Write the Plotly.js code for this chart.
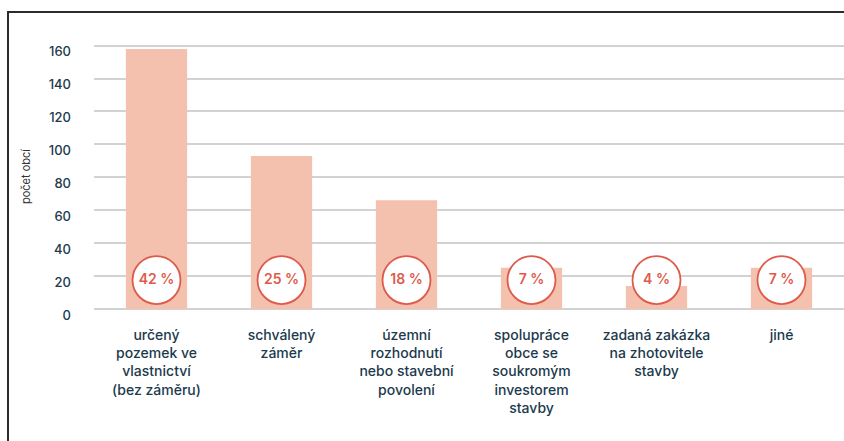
<!DOCTYPE html>
<html>
<head>
<meta charset="utf-8">
<script src="https://cdn.plot.ly/plotly-3.0.1.min.js"></script>
<style>
  html, body { margin: 0; padding: 0; background: #fff; }
  #wrap { position: relative; width: 844px; height: 441px; overflow: hidden; }
  #chart { position: absolute; left: 0; top: 0; width: 844px; height: 441px; }
  #frame { position: absolute; left: 7px; top: 11px; width: 850px; height: 450px;
           border-left: 2px solid #2b2b2b; border-top: 2px solid #2b2b2b; pointer-events: none; }
</style>
</head>
<body>
<div id="wrap">
  <div id="chart"></div>
  <div id="frame"></div>
</div>
<script>
const categories = [
  "určený<br>pozemek ve<br>vlastnictví<br>(bez záměru)",
  "schválený<br>záměr",
  "územní<br>rozhodnutí<br>nebo stavební<br>povolení",
  "spolupráce<br>obce se<br>soukromým<br>investorem<br>stavby",
  "zadaná zakázka<br>na zhotovitele<br>stavby",
  "jiné"
];
const counts = [158, 93, 66, 25, 14, 25];
const shares = ["42 %", "25 %", "18 %", "7 %", "4 %", "7 %"];
const yTicks = [0, 20, 40, 60, 80, 100, 120, 140, 160];
const yTitle = "počet obcí";

const fontFam = "Inter, 'Noto Sans', sans-serif";
const navy = "#1b3a4c";
const coral = "#de5a4b";
const badgeLevel = 17.6;

const bars = {
  type: "bar",
  x: categories,
  y: counts,
  marker: { color: "#f4c1af" },
  width: 0.49,
  hoverinfo: "skip"
};

const badges = {
  type: "scatter",
  mode: "markers+text",
  x: categories,
  y: categories.map(() => badgeLevel),
  text: shares,
  textposition: "middle center",
  textfont: { family: fontFam, size: 14, color: coral, weight: 600 },
  marker: { symbol: "circle", size: 48, color: "#ffffff", line: { color: coral, width: 1.8 } },
  cliponaxis: false,
  hoverinfo: "skip"
};

const layout = {
  width: 844, height: 441,
  margin: { l: 94, r: 0, t: 44, b: 132 },
  paper_bgcolor: "#ffffff",
  plot_bgcolor: "#ffffff",
  showlegend: false,
  font: { family: fontFam, color: navy },
  xaxis: {
    type: "category",
    range: [-0.5, 5.5],
    showgrid: false,
    showline: false,
    zeroline: false,
    ticks: "",
    tickfont: { family: fontFam, size: 14, color: navy, weight: 500 },
    ticklabelstandoff: 16,
    fixedrange: true
  },
  yaxis: {
    range: [0, 161],
    tickvals: yTicks,
    ticktext: yTicks.map(String),
    showgrid: true,
    gridcolor: "#d2d2d2",
    gridwidth: 2,
    zeroline: true,
    zerolinecolor: "#d2d2d2",
    zerolinewidth: 2,
    showline: false,
    ticks: "",
    tickfont: { family: fontFam, size: 13, color: navy, weight: 500 },
    ticklabelstandoff: 22,
    ticklabelshift: 6,
    title: { text: yTitle, font: { family: fontFam, size: 11, color: "#333333" }, standoff: 15 },
    fixedrange: true
  }
};

Plotly.newPlot("chart", [bars, badges], layout, { displayModeBar: false, staticPlot: true });
</script>
</body>
</html>
